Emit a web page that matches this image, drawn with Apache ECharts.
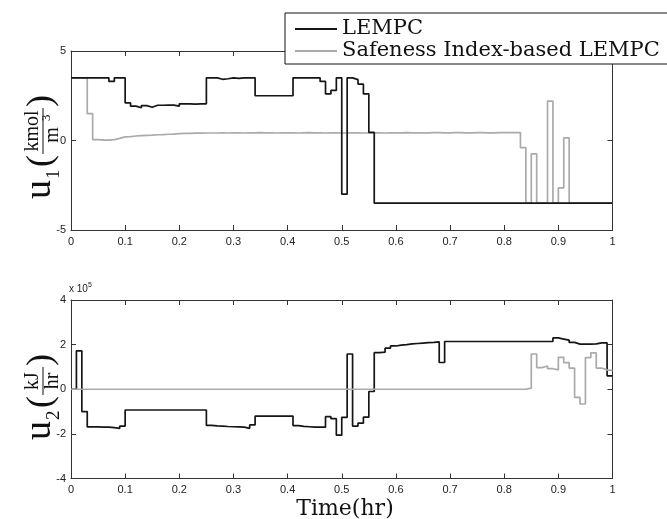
<!DOCTYPE html>
<html><head><meta charset="utf-8">
<script src="https://cdn.jsdelivr.net/npm/echarts@6/dist/echarts.min.js"></script>
<style>html,body{margin:0;padding:0;background:#fff}#c{width:667px;height:519px}</style>
</head><body><div id="c"></div>
<script>
// sampling instants (hr), zero-order hold over each 0.01 hr interval
const times = [0,0.01,0.02,0.03,0.04,0.05,0.06,0.07,0.08,0.09,0.1,0.11,0.12,0.13,0.14,0.15,0.16,0.17,0.18,0.19,0.2,0.21,0.22,0.23,0.24,0.25,0.26,0.27,0.28,0.29,0.3,0.31,0.32,0.33,0.34,0.35,0.36,0.37,0.38,0.39,0.4,0.41,0.42,0.43,0.44,0.45,0.46,0.47,0.48,0.49,0.5,0.51,0.52,0.53,0.54,0.55,0.56,0.57,0.58,0.59,0.6,0.61,0.62,0.63,0.64,0.65,0.66,0.67,0.68,0.69,0.7,0.71,0.72,0.73,0.74,0.75,0.76,0.77,0.78,0.79,0.8,0.81,0.82,0.83,0.84,0.85,0.86,0.87,0.88,0.89,0.9,0.91,0.92,0.93,0.94,0.95,0.96,0.97,0.98,0.99,1.0];

const seriesNames = ['LEMPC', 'Safeness Index-based LEMPC'];

// u1 (kmol/m^3)
const u1Lempc = [3.5,3.5,3.5,3.5,3.5,3.5,3.5,3.3,3.5,3.5,
  2.1,1.92,1.83,1.95,1.86,1.97,1.97,1.98,1.98,1.92,2.05,2.05,2.03,2.05,2.05,
  3.5,3.5,3.42,3.45,3.5,3.47,3.5,3.5,3.5,
  2.5,2.5,2.5,2.5,2.5,2.5,2.5,
  3.5,3.5,3.5,3.5,3.5,3.3,
  2.6,2.8,3.5,-3.0,3.5,3.4,3.15,2.6,0.45,
  -3.5,-3.5,-3.5,-3.5,-3.5,-3.5,-3.5,-3.5,-3.5,-3.5,-3.5,-3.5,-3.5,-3.5,-3.5,-3.5,-3.5,-3.5,-3.5,-3.5,-3.5,-3.5,
  -3.5,-3.5,-3.5,-3.5,-3.5,-3.5,-3.5,-3.5,-3.5,-3.5,-3.5,-3.5,-3.5,-3.5,-3.5,-3.5,-3.5,-3.5,-3.5,-3.5,-3.5,-3.5,-3.5,-3.5];
const u1Safe = [3.5,3.5,3.5,1.5,0.05,0.02,0.02,0.05,
  0.12,0.2,0.22,0.25,0.27,0.29,0.3,0.32,0.33,0.35,0.36,0.38,
  0.4,0.4,0.41,0.41,0.42,0.42,0.42,0.43,0.42,0.43,0.43,0.42,0.43,0.43,0.44,0.43,0.43,0.42,0.43,0.43,
  0.43,0.42,0.43,0.44,0.43,0.43,0.42,0.43,0.43,0.42,0.42,0.43,0.43,0.42,0.42,0.43,0.43,0.42,0.43,0.43,
  0.43,0.44,0.43,0.43,0.43,0.43,0.44,0.44,0.43,0.43,0.44,0.44,0.43,0.43,0.44,0.44,0.43,0.43,0.44,0.44,
  0.44,0.44,0.44,
  -0.4,-3.5,-0.75,-3.5,-3.5,2.2,-3.5,-2.65,0.15,
  -3.5,-3.5,-3.5,-3.5,-3.5,-3.5,-3.5,-3.5];

// u2 (x 10^5 kJ/hr)
const u2Lempc = [0,1.72,-1.0,
  -1.69,-1.69,-1.7,-1.7,-1.72,-1.75,-1.65,
  -0.93,-0.93,-0.93,-0.93,-0.93,-0.93,-0.93,-0.93,-0.93,-0.93,-0.93,-0.93,-0.93,-0.93,-0.93,
  -1.62,-1.64,-1.65,-1.67,-1.68,-1.69,-1.7,-1.75,-1.6,
  -1.2,-1.2,-1.2,-1.2,-1.2,-1.2,-1.2,
  -1.63,-1.66,-1.68,-1.7,-1.7,-1.7,
  -1.23,-1.32,-2.06,-1.26,1.58,-1.65,-1.52,-1.25,-0.1,
  1.64,1.66,1.84,1.94,1.98,2.0,2.03,2.05,2.07,2.09,2.1,2.12,
  1.2,
  2.14,2.14,2.14,2.14,2.14,2.14,2.14,2.14,2.14,2.14,2.14,2.14,2.14,2.14,2.14,2.14,2.14,2.14,2.14,2.14,
  2.3,2.25,2.2,2.1,2.02,2.02,2.02,2.03,2.08,2.08,0.6];
const u2Safe = [0,0,0,0,0,0,0,0,0,0,0,0,0,0,0,0,0,0,0,0,
  0,0,0,0,0,0,0,0,0,0,0,0,0,0,0,0,0,0,0,0,
  0,0,0,0,0,0,0,0,0,0,0,0,0,0,0,0,0,0,0,0,
  0,0,0,0,0,0,0,0,0,0,0,0,0,0,0,0,0,0,0,0,
  0,0,0,0,
  0.05,1.58,0.97,1.04,0.92,0.87,1.43,1.19,0.95,-0.36,-0.66,1.42,1.63,0.95,0.87,0.85];

const xTicks = [0,0.1,0.2,0.3,0.4,0.5,0.6,0.7,0.8,0.9,1];

function pts(vals){
  const v = vals.concat([vals[vals.length-1]]);
  return times.map((t,i)=>[t, v[i]]);
}

const BLACK = '#151515', GRAY = '#aaaaaa', AX = '#333';
const GL = 71, GW = 541.5;
const grids = [{left:GL, top:51, width:GW, height:179},{left:GL, top:300, width:GW, height:178.5}];

function xAx(gi, pos){
  return {type:'value', gridIndex:gi, position:pos, min:0, max:1, interval:0.1,
    axisLine:{show:true, onZero:false, lineStyle:{color:AX, width:1}},
    axisTick:{show:true, inside:true, length:5, lineStyle:{color:AX}},
    axisLabel:{show:pos==='bottom', margin:6, fontFamily:'Liberation Sans', fontSize:11, color:'#222',
      formatter:v=>xTicks.includes(+v.toFixed(2)) ? String(+v.toFixed(1)) : ''},
    splitLine:{show:false}};
}
function yAx(gi, pos, mn, mx, iv){
  return {type:'value', gridIndex:gi, position:pos, min:mn, max:mx, interval:iv,
    axisLine:{show:true, onZero:false, lineStyle:{color:AX, width:1}},
    axisTick:{show:true, inside:true, length:5, lineStyle:{color:AX}},
    axisLabel:{show:pos==='left', margin:5, fontFamily:'Liberation Sans', fontSize:11, color:'#222'},
    splitLine:{show:false}};
}

function line(name, data, xi, yi, color, z){
  return {name, type:'line', xAxisIndex:xi, yAxisIndex:yi, data, step:'end', symbol:'none', showSymbol:false,
    lineStyle:{color, width:1.7}, itemStyle:{color}, z, animation:false};
}

// rotated y-axis label with fraction
function vlabel(x0, y0, sub, num, den, denSup, fracW){
  const F = 'Liberation Serif';
  const ch = [];
  let s = 0;
  ch.push({type:'text', x:s, y:-13, style:{text:'u', font:'38px '+F, fill:'#111', align:'left', verticalAlign:'middle'}});
  s += 20;
  ch.push({type:'text', x:s, y:1, style:{text:sub, font:'19px '+F, fill:'#111', align:'left', verticalAlign:'middle'}});
  s += 12;
  ch.push({type:'text', x:s, y:-11, style:{text:'(', font:'36px '+F, fill:'#111', align:'left', verticalAlign:'middle'}});
  s += 13;
  const cx = s + fracW/2;
  ch.push({type:'text', x:cx, y:-20, style:{text:num, font:'20px '+F, fill:'#111', align:'center', verticalAlign:'middle'}});
  ch.push({type:'line', shape:{x1:s, y1:-10, x2:s+fracW, y2:-10}, style:{stroke:'#111', lineWidth:1}});
  ch.push({type:'text', x:cx - (denSup?4:0), y:0, style:{text:den, font:'20px '+F, fill:'#111', align:'center', verticalAlign:'middle'}});
  if (denSup) ch.push({type:'text', x:cx+10, y:-6, style:{text:denSup, font:'13px '+F, fill:'#111', align:'left', verticalAlign:'middle'}});
  s += fracW + 1;
  ch.push({type:'text', x:s, y:-11, style:{text:')', font:'36px '+F, fill:'#111', align:'left', verticalAlign:'middle'}});
  return {type:'group', x:x0, y:y0, rotation:Math.PI/2, children:ch, z:30};
}

const chart = echarts.init(document.getElementById('c'), null, {renderer:'canvas'});
chart.setOption({
  backgroundColor:'#fff',
  animation:false,
  grid:grids,
  xAxis:[xAx(0,'bottom'), xAx(0,'top'), xAx(1,'bottom'), xAx(1,'top')],
  yAxis:[yAx(0,'left',-5,5,5), yAx(0,'right',-5,5,5), yAx(1,'left',-4,4,2), yAx(1,'right',-4,4,2)],
  legend:{data:seriesNames, orient:'vertical', left:295, top:18, padding:0, itemGap:0, itemWidth:42, itemHeight:2, icon:'rect',
    textStyle:{fontFamily:'DejaVu Serif', fontSize:21, color:'#111', lineHeight:22}, z:40, selectedMode:false},
  series:[
    line(seriesNames[1], pts(u1Safe), 0, 0, GRAY, 2),
    line(seriesNames[0], pts(u1Lempc), 0, 0, BLACK, 3),
    line(seriesNames[0], pts(u2Lempc), 2, 2, BLACK, 2),
    line(seriesNames[1], pts(u2Safe), 2, 2, GRAY, 3)
  ],
  graphic:[
    {type:'rect', shape:{x:285, y:13, width:400, height:51}, style:{fill:'#fff', stroke:'#111', lineWidth:1}, z:35},
    {type:'text', x:345, y:509, style:{text:'Time(hr)', font:'22px DejaVu Serif', fill:'#111', align:'center', verticalAlign:'middle'}, z:30},
    {type:'text', x:69, y:289, style:{text:'x 10{s|5}', font:'10px Liberation Sans', fill:'#222', align:'left', verticalAlign:'middle',
      rich:{s:{fontSize:7, fontFamily:'Liberation Sans', verticalAlign:'top', padding:[0,0,7,0]}}}, z:30},
    vlabel(53, 199, '1', 'kmol', 'm', '3', 46),
    vlabel(53, 440, '2', 'kJ', 'hr', '', 28)
  ]
});
</script></body></html>
